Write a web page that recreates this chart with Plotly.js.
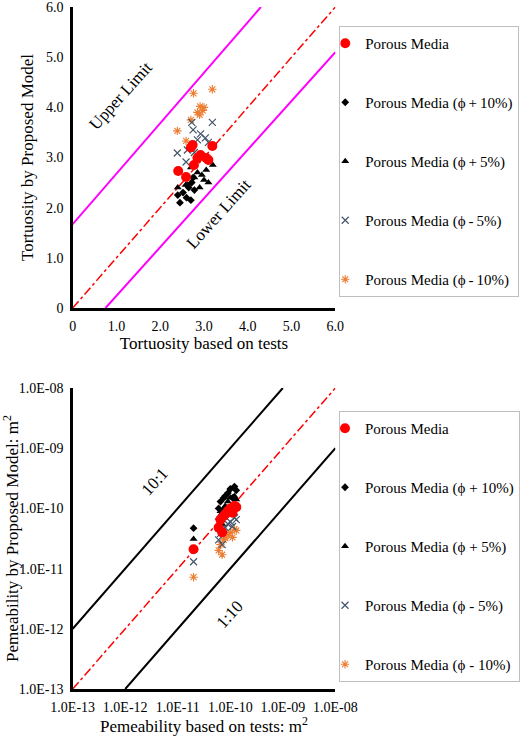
<!DOCTYPE html>
<html>
<head>
<meta charset="utf-8">
<script src="https://cdn.plot.ly/plotly-3.0.1.min.js"></script>
<style>html,body{margin:0;padding:0;background:#fff;}#chart{width:520px;height:736px;}</style>
</head>
<body>
<div id="chart"></div>
<script>
// ---------- Tortuosity (top chart) ----------
const tortRedX = [2.41, 2.59, 2.74, 2.77, 2.85, 2.92, 3.05, 3.10, 3.19, 2.70];
const tortRedY = [2.73, 2.61, 3.25, 2.85, 2.99, 3.05, 2.99, 2.95, 3.23, 3.20];
const tortP10X = [2.40, 2.45, 2.52, 2.60, 2.65, 2.72, 2.75, 2.78, 2.70, 2.62];
const tortP10Y = [2.25, 2.10, 2.30, 2.20, 2.40, 2.50, 2.60, 2.35, 2.15, 2.45];
const tortP5X  = [2.40, 2.58, 2.70, 2.85, 2.95, 3.00, 3.05, 3.10, 3.20, 2.90, 2.78];
const tortP5Y  = [2.40, 2.45, 2.80, 2.70, 2.65, 2.55, 2.75, 2.50, 2.85, 2.40, 2.60];
const tortM5X  = [2.39, 2.59, 2.72, 2.78, 2.92, 3.03, 3.19, 2.75, 2.85, 2.62, 3.10];
const tortM5Y  = [3.09, 2.91, 3.70, 3.10, 3.47, 3.39, 3.70, 3.55, 3.35, 3.15, 3.30];
const tortM10X = [2.39, 2.59, 2.76, 2.91, 2.85, 2.97, 3.00, 3.19, 2.70, 2.90];
const tortM10Y = [3.53, 3.33, 4.28, 4.02, 3.90, 3.94, 4.00, 4.36, 3.75, 3.85];
const upperLimitX = [0, 4.3], upperLimitY = [1.67, 6];
const lowerLimitX = [0.75, 6], lowerLimitY = [0, 5.1];
const oneToOne = [0, 6];
const tortTicks = [0, 1, 2, 3, 4, 5, 6];
const tortTickText = ["0", "1.0", "2.0", "3.0", "4.0", "5.0", "6.0"];

// ---------- Permeability (bottom chart) ----------
const permTestX = [2.0e-11, 6.0e-11, 6.5e-11, 7.0e-11, 7.5e-11, 8.0e-11, 9.0e-11, 1.0e-10, 1.1e-10, 1.2e-10, 1.3e-10];
const permRed = [2.1e-11, 4.8e-11, 6.5e-11, 4.0e-11, 7.5e-11, 8.0e-11, 9.0e-11, 1.0e-10, 8.5e-11, 1.1e-10, 1.05e-10];
const permP10 = [4.7e-11, 1.0e-10, 1.3e-10, 8.0e-11, 1.5e-10, 1.6e-10, 1.8e-10, 2.1e-10, 1.5e-10, 2.3e-10, 2.0e-10];
const permP5  = [3.1e-11, 7.0e-11, 9.0e-11, 5.5e-11, 1.0e-10, 1.1e-10, 1.3e-10, 1.5e-10, 1.1e-10, 1.6e-10, 1.4e-10];
const permM5  = [1.3e-11, 3.0e-11, 3.8e-11, 2.5e-11, 4.5e-11, 4.8e-11, 5.5e-11, 6.0e-11, 5.0e-11, 7.0e-11, 6.5e-11];
const permM10 = [7.2e-12, 2.0e-11, 2.5e-11, 1.7e-11, 3.0e-11, 3.2e-11, 3.6e-11, 4.0e-11, 3.3e-11, 4.5e-11, 4.3e-11];
const tenToOneX = [1e-13, 1e-9], tenToOneY = [1e-12, 1e-8];
const oneToTenX = [1e-12, 1e-8], oneToTenY = [1e-13, 1e-9];
const permOneToOne = [1e-13, 1e-8];
const permTicks = [1e-13, 1e-12, 1e-11, 1e-10, 1e-9, 1e-8];
const permTickText = ["1.0E-13", "1.0E-12", "1.0E-11", "1.0E-10", "1.0E-09", "1.0E-08"];

const seriesNames = ["Porous Media", "Porous Media (\u03d5 + 10%)", "Porous Media (\u03d5 + 5%)", "Porous Media (\u03d5 - 5%)", "Porous Media (\u03d5 - 10%)"];
const topNames = ["Porous Media", "Porous Media (\u03d5\u2009+\u200910%)", "Porous Media (\u03d5\u2009+\u20095%)", "Porous Media (\u03d5\u2009-\u20095%)", "Porous Media (\u03d5\u2009-\u200910%)"];

const FONT = "Liberation Serif";
const styles = [
  {symbol: "circle", size: 10, color: "#ff0000", line: {width: 0}},
  {symbol: "diamond", size: 6, color: "#000000", line: {width: 0}},
  {symbol: "triangle-up", size: 7, color: "#000000", line: {width: 0}},
  {symbol: "x-thin-open", size: 7, color: "#44546a", line: {width: 1.2, color: "#44546a"}},
  {symbol: "asterisk-open", size: 7, color: "#ed7d31", line: {width: 1.1, color: "#ed7d31"}}
];

const topX = [tortRedX, tortP10X, tortP5X, tortM5X, tortM10X];
const topY = [tortRedY, tortP10Y, tortP5Y, tortM5Y, tortM10Y];
const botY = [permRed, permP10, permP5, permM5, permM10];

const traces = [];
traces.push({x: upperLimitX, y: upperLimitY, mode: "lines", line: {color: "#ff00ff", width: 2}, showlegend: false, xaxis: "x", yaxis: "y", hoverinfo: "skip"});
traces.push({x: lowerLimitX, y: lowerLimitY, mode: "lines", line: {color: "#ff00ff", width: 2}, showlegend: false, xaxis: "x", yaxis: "y", hoverinfo: "skip"});
traces.push({x: oneToOne, y: oneToOne, mode: "lines", line: {color: "#ff0000", width: 1.5, dash: "dashdot"}, showlegend: false, xaxis: "x", yaxis: "y", hoverinfo: "skip"});
traces.push({x: tenToOneX, y: tenToOneY, mode: "lines", line: {color: "#000000", width: 2}, showlegend: false, xaxis: "x2", yaxis: "y2", hoverinfo: "skip"});
traces.push({x: oneToTenX, y: oneToTenY, mode: "lines", line: {color: "#000000", width: 2}, showlegend: false, xaxis: "x2", yaxis: "y2", hoverinfo: "skip"});
traces.push({x: permOneToOne, y: permOneToOne, mode: "lines", line: {color: "#ff0000", width: 1.5, dash: "dashdot"}, showlegend: false, xaxis: "x2", yaxis: "y2", hoverinfo: "skip"});

for (let i = 4; i >= 0; i--) {
  traces.push({x: topX[i], y: topY[i], mode: "markers", name: topNames[i], marker: styles[i],
    xaxis: "x", yaxis: "y", legend: "legend", legendgroup: "t" + i, legendrank: i + 1});
}
for (let i = 4; i >= 0; i--) {
  traces.push({x: permTestX, y: botY[i], mode: "markers", name: seriesNames[i], marker: styles[i],
    xaxis: "x2", yaxis: "y2", legend: "legend2", legendgroup: "b" + i, legendrank: i + 1});
}

function axisCommon() {
  return {showgrid: false, zeroline: false, showline: true, linecolor: "#000", linewidth: 2.5,
    ticks: "", tickfont: {family: FONT, size: 14, color: "#000"}, fixedrange: true, mirror: false,
    ticklabeloverflow: "allow", ticklabelstandoff: 4};
}
function legendCommon() {
  return {xanchor: "left", yanchor: "top", bgcolor: "rgba(255,255,255,0)", bordercolor: "#bfbfbf", borderwidth: 1,
    font: {family: FONT, size: 15, color: "#000"}, tracegroupgap: 36.5, traceorder: "grouped", indentation: -15, itemsizing: "trace"};
}
function tfont() { return {family: FONT, size: 17, color: "#000"}; }

const layout = {
  width: 520, height: 736,
  margin: {l: 0, r: 0, t: 0, b: 0},
  paper_bgcolor: "#fff", plot_bgcolor: "#fff",
  showlegend: true,
  xaxis: Object.assign(axisCommon(), {domain: [75/520, 346/520], range: [0, 6], anchor: "y",
    tickvals: tortTicks, ticktext: tortTickText,
    title: {text: "Tortuosity based on tests", font: tfont(), standoff: 4}}),
  yaxis: Object.assign(axisCommon(), {domain: [1 - 308/736, 1 - 7/736], range: [0, 6], anchor: "x",
    tickvals: tortTicks, ticktext: tortTickText,
    title: {text: "Tortuosity by Proposed Model", font: tfont(), standoff: 8}}),
  xaxis2: Object.assign(axisCommon(), {domain: [75/520, 346/520], type: "log", range: [-13, -8], anchor: "y2",
    tickvals: permTicks, ticktext: permTickText,
    title: {text: "Pemeability based on tests: m<sup>2</sup>", font: tfont(), standoff: 6}}),
  yaxis2: Object.assign(axisCommon(), {domain: [1 - 689/736, 1 - 388/736], type: "log", range: [-13, -8], anchor: "x2",
    tickvals: permTicks, ticktext: permTickText,
    title: {text: "Pemeability by Proposed Model: m<sup>2</sup>", font: tfont(), standoff: 6}}),
  legend: Object.assign(legendCommon(), {x: 350/520, y: 1 - 26/736}),
  legend2: Object.assign(legendCommon(), {x: 350/520, y: 1 - 411/736}),
  annotations: [
    {text: "Upper Limit", x: 1.1, y: 4.24, xref: "x", yref: "y", showarrow: false, textangle: -48, font: tfont()},
    {text: "Lower Limit", x: 3.34, y: 1.89, xref: "x", yref: "y", showarrow: false, textangle: -48, font: tfont()},
    {text: "10:1", x: -11.43, y: -9.56, xref: "x2", yref: "y2", showarrow: false, textangle: -48, font: tfont()},
    {text: "1:10", x: -10.01, y: -11.77, xref: "x2", yref: "y2", showarrow: false, textangle: -48, font: tfont()}
  ]
};

Plotly.newPlot("chart", traces, layout, {displayModeBar: false, staticPlot: true});
</script>
</body>
</html>
